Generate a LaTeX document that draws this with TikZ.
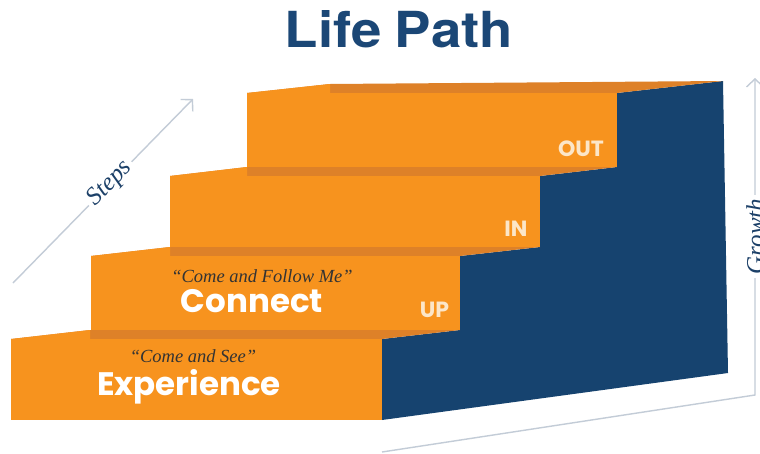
\documentclass[tikz,border=0pt]{standalone}
\usepackage{fontspec}
\setmainfont{Liberation Serif}
\newfontfamily\herosfont{TeX Gyre Heros}
\newfontfamily\popfont{Poppins}
\usetikzlibrary{arrows.meta}
\definecolor{stepor}{HTML}{F7931E}
\definecolor{bandor}{HTML}{DE8128}
\definecolor{navy}{HTML}{16436F}
\definecolor{titleblue}{HTML}{1B4776}
\definecolor{axisgray}{HTML}{C3CCD7}
\definecolor{quotegray}{HTML}{333333}
\definecolor{cream}{HTML}{FCE6C8}
\definecolor{labelblue}{HTML}{1C4068}
\begin{document}
\begin{tikzpicture}[x=1pt,y=-1pt,
  face/.style={fill=stepor},
  band/.style={fill=bandor},
  side/.style={fill=navy},
  axis/.style={draw=axisgray, line width=1.4pt, line join=miter,
    -{Straight Barb[length=8pt,width=17pt]}},
  axislabel/.style={sloped, fill=white, inner sep=4pt, text=labelblue,
    font=\fontsize{25}{25}\selectfont\itshape},
  quote/.style={anchor=base, text=quotegray, font=\fontsize{18.5}{18.5}\selectfont\itshape},
  stepname/.style={anchor=base, text=white, font=\fontsize{32.5}{32.5}\selectfont\popfont\bfseries},
  dirlabel/.style={anchor=base, text=cream, font=\fontsize{22}{22}\selectfont\popfont\bfseries}
]
\fill[white] (0,0) rectangle (760,453);
\useasboundingbox (0,0) rectangle (760,453);

% blue side of the staircase
\fill[side] (382,420) -- (382,339) -- (460,330) -- (460,256) -- (540,247)
  -- (540,176) -- (617,167) -- (617,93) -- (723,81) -- (728,373) -- cycle;

% step 1
\fill[band] (11,339) -- (90,330) -- (460,330) -- (382,339) -- cycle;
\fill[face] (11,339) -- (90,330) -- (90,339) -- cycle;
\fill[face] (11,339) rectangle (382,420);
% step 2
\fill[band] (91,256) -- (170,247) -- (540,247) -- (460,256) -- cycle;
\fill[face] (91,256) -- (170,247) -- (170,256) -- cycle;
\fill[face] (91,256) rectangle (460,330);
% step 3
\fill[band] (170,176) -- (247,167) -- (617,167) -- (540,176) -- cycle;
\fill[face] (170,176) -- (247,167) -- (247,176) -- cycle;
\fill[face] (170,176) rectangle (540,247);
% step 4
\fill[band] (247,93) -- (330,84) -- (723,81) -- (617,93) -- cycle;
\fill[face] (247,93) -- (330,84) -- (330,93) -- cycle;
\fill[face] (247,93) rectangle (617,167);

% title
\node[anchor=base, text=titleblue, inner sep=0pt] (title) at (399,47)
  {\resizebox{228pt}{37pt}{\fontsize{52}{52}\selectfont\herosfont\bfseries Life\kern-2pt\ Path}};

% step texts
\node[quote] (q1) at (193,362) {“Come and See”};
\node[stepname] (exp) at (189,395) {Experience};
\node[quote] (q2) at (262,282) {“Come and Follow Me”};
\node[stepname] (con) at (252,312) {Connect};
\node[dirlabel] (up) at (434.5,317) {UP};
\node[dirlabel] (in) at (516,236) {IN};
\node[dirlabel] (out) at (581,156) {OUT};

% axes
\coordinate (s0) at (13,283);
\coordinate (s1) at (193,99);
\draw[axis] (s0) -- node[axislabel, pos=0.54] (steps) {Steps} (s1);
\coordinate (g0) at (382,452);
\coordinate (gc) at (755,395);
\coordinate (g1) at (755,78);
\draw[axis] (g0) -- (gc) -- node[axislabel, pos=0.5] (growth) {Growth} (g1);
\end{tikzpicture}
\end{document}
